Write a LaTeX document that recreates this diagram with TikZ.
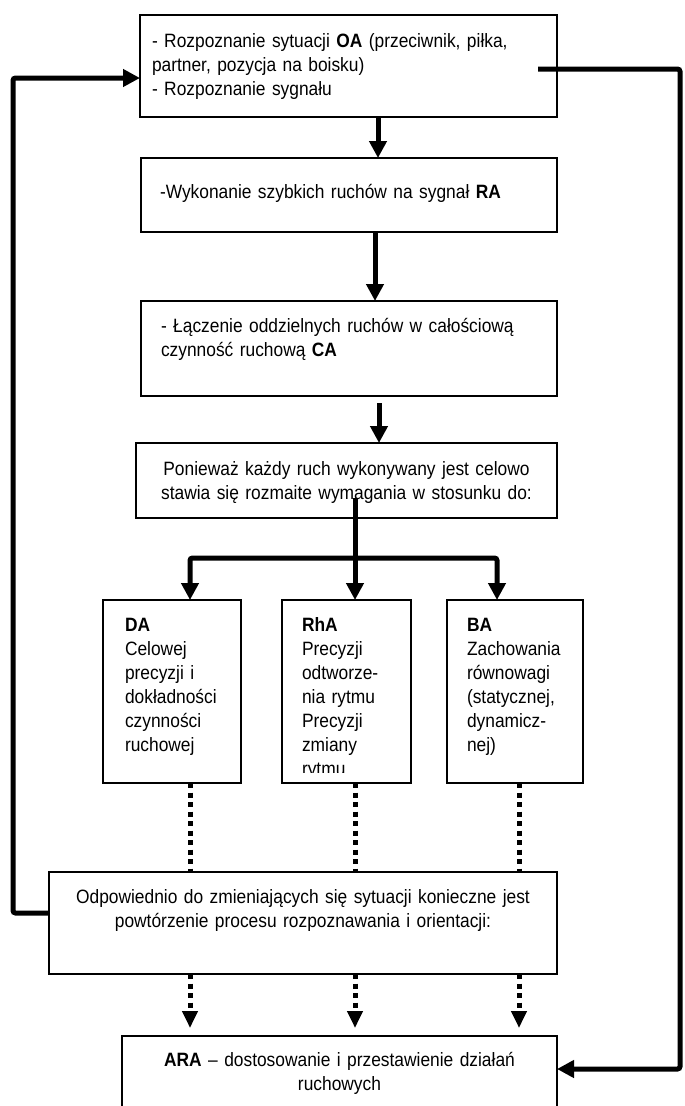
\documentclass[tikz,border=0pt]{standalone}
\usepackage{fontspec}
\setmainfont{Liberation Sans}[FakeStretch=0.9]
\usetikzlibrary{arrows.meta}
\begin{document}
\begin{tikzpicture}[x=1pt,y=-1pt,
  box/.style={draw, line width=1.8pt, inner sep=0pt, outer sep=0pt, anchor=north west},
  txt/.style={inner sep=0pt, outer sep=0pt, font=\fontsize{19.3}{24}\selectfont, text width=#1, align=left, anchor=base west},
  ctxt/.style={inner sep=0pt, outer sep=0pt, font=\fontsize{19.3}{24}\selectfont, text width=#1, align=center, anchor=base},
  conn/.style={line width=5pt, -{Triangle[length=17pt,width=17pt]}},
  dotline/.style={line width=5pt, dash pattern=on 5pt off 4.5pt},
  dotarr/.style={line width=5pt, dash pattern=on 5pt off 4.5pt, -{Triangle[length=17pt,width=15pt]}}
]
\useasboundingbox (0,0) rectangle (685,1106);
\clip (0,0) rectangle (685,1106);

% boxes
\node[box, minimum width=417pt, minimum height=102pt] (b1) at (140,15) {};
\node[box, minimum width=416pt, minimum height=74pt] (b2) at (141,158) {};
\node[box, minimum width=416pt, minimum height=95pt] (b3) at (141,301) {};
\node[box, minimum width=421pt, minimum height=75pt] (b4) at (136,443) {};
\node[box, minimum width=138pt, minimum height=183pt] (da) at (103,600) {};
\node[box, minimum width=129pt, minimum height=183pt] (rha) at (282,600) {};
\node[box, minimum width=136pt, minimum height=183pt] (ba) at (447,600) {};
\node[box, minimum width=508pt, minimum height=102pt] (odp) at (49,872) {};
\node[box, minimum width=435pt, minimum height=110pt] (ara) at (122,1036) {};

% texts
\node[txt=400pt] (t1) at ([xshift=12pt,yshift=-32pt]b1.north west)
  {- Rozpoznanie sytuacji \textbf{OA} (przeciwnik, piłka,\\partner, pozycja na boisku)\\- Rozpoznanie sygnału};
\node[txt=390pt] (t2) at ([xshift=19pt,yshift=-40pt]b2.north west)
  {-Wykonanie szybkich ruchów na sygnał \textbf{RA}};
\node[txt=390pt] (t3) at ([xshift=20pt,yshift=-31pt]b3.north west)
  {- Łączenie oddzielnych ruchów w całościową\\czynność ruchową \textbf{CA}};
\node[ctxt=415pt] (t4) at ([yshift=-32pt]b4.north)
  {Ponieważ każdy ruch wykonywany jest celowo\\stawia się rozmaite wymagania w stosunku do:};
\node[txt=115pt] (tda) at ([xshift=22pt,yshift=-31pt]da.north west)
  {\textbf{DA}\\Celowej\\precyzji i\\dokładności\\czynności\\ruchowej};
\begin{scope}
  \clip (282,600) rectangle (411,772);
  \node[txt=105pt] (trha) at ([xshift=20pt,yshift=-31pt]rha.north west)
    {\textbf{RhA}\\Precyzji\\odtworze-\\nia rytmu\\Precyzji\\zmiany\\rytmu};
\end{scope}
\node[txt=112pt] (tba) at ([xshift=20pt,yshift=-31pt]ba.north west)
  {\textbf{BA}\\Zachowania\\równowagi\\(statycznej,\\dynamicz-\\nej)};
\node[ctxt=500pt] (todp) at ([yshift=-31pt]odp.north)
  {Odpowiednio do zmieniających się sytuacji konieczne jest\\powtórzenie procesu rozpoznawania i orientacji:};
\node[ctxt=430pt] (tara) at ([yshift=-30pt]ara.north)
  {\textbf{ARA} – dostosowanie i przestawienie działań\\ruchowych};

% main flow
\draw[conn] ([xshift=29.5pt]b1.south) -- ([xshift=29.5pt]b1.south |- b2.north);
\draw[conn] ([xshift=26pt]b2.south) -- ([xshift=26pt]b2.south |- b3.north);
\draw[conn] ([xshift=30pt,yshift=-7pt]b3.south) -- ([xshift=30pt]b3.south |- b4.north);

% branching
\draw[conn] ([xshift=8.5pt,yshift=20pt]b4.south) -- ([xshift=8.5pt]rha.north);
\draw[conn, rounded corners=2.5pt] ([xshift=8.5pt,yshift=-40pt]b4.south) -| ([xshift=18pt]da.north);
\draw[conn, rounded corners=2.5pt] ([xshift=8.5pt,yshift=-40pt]b4.south) -| ([xshift=-18pt]ba.north);

% dotted connections
\draw[dotline] ([xshift=18pt]da.south) coordinate (d1) -- (d1 |- odp.north);
\draw[dotline] ([xshift=8.5pt]rha.south) coordinate (d2) -- (d2 |- odp.north);
\draw[dotline] ([xshift=4pt]ba.south) coordinate (d3) -- (d3 |- odp.north);
\draw[dotarr, shorten >=8pt] (d1 |- odp.south) -- (d1 |- ara.north);
\draw[dotarr, shorten >=8pt] (d2 |- odp.south) -- (d2 |- ara.north);
\draw[dotarr, shorten >=8pt] (d3 |- odp.south) -- (d3 |- ara.north);

% feedback loops
\draw[conn, rounded corners=2.5pt] ([yshift=10pt]odp.west) -- ++(-36,0) |- ([yshift=-12pt]b1.west);
\draw[conn, rounded corners=2.5pt] ([xshift=-19pt,yshift=-3pt]b1.east) -- ++(142,0) |- ([yshift=-33pt]ara.north east);
\end{tikzpicture}
\end{document}
